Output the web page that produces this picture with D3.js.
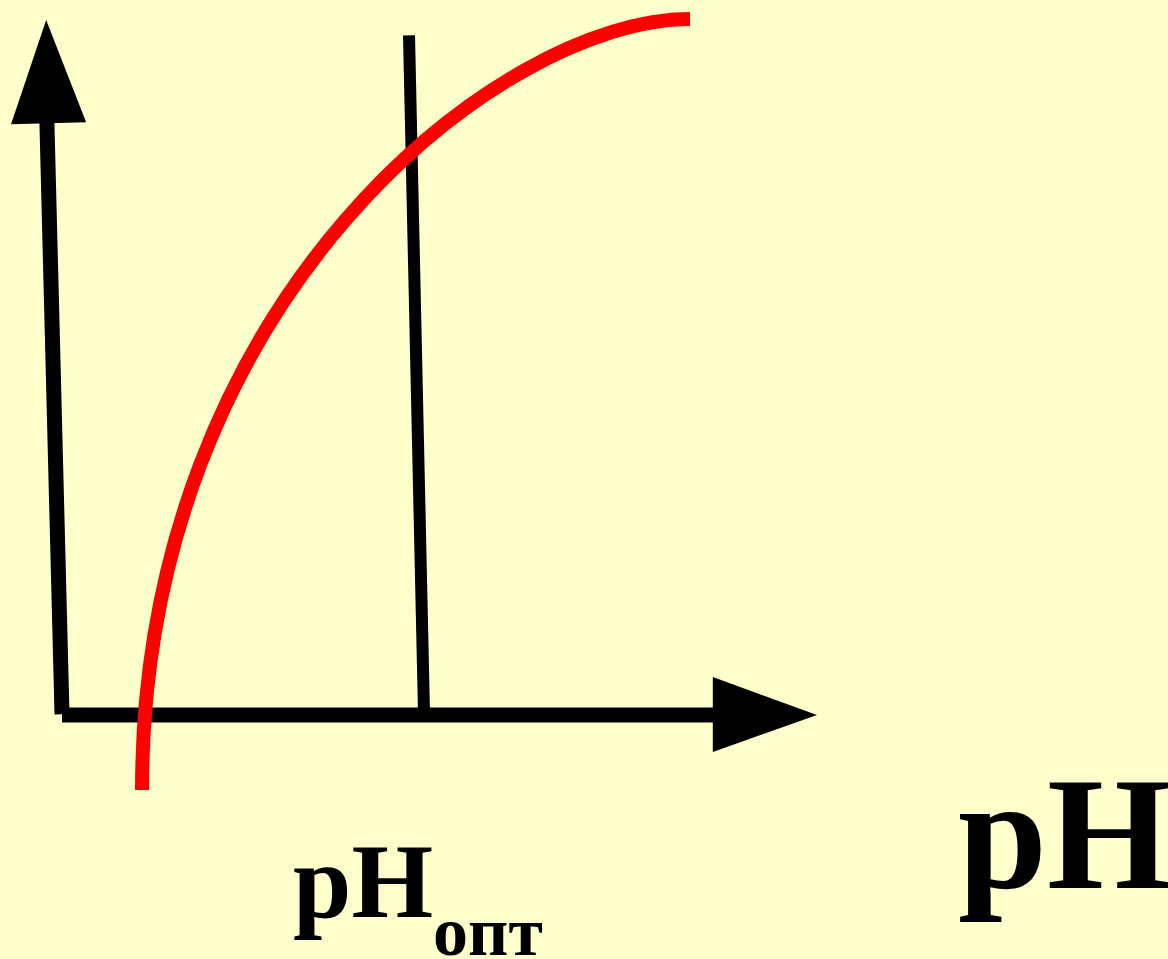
<!DOCTYPE html>
<html>
<head>
<meta charset="utf-8">
<script src="https://cdn.jsdelivr.net/npm/d3@7"></script>
<style>
  html, body { margin: 0; padding: 0; background: #ffffcc; }
  svg { display: block; }
</style>
</head>
<body>
<div id="chart"></div>
<script>
// kurva aktivitas: titik awal, dua titik kontrol, titik akhir (unit relatif 0..100)
const curveX = [10.60, 10.60, 58.01, 83.18];
const curveY = [-10.79, 59.71, 100.14, 100.14];

// garis pH optimum
const optX = [45.96, 47.95];
const optY = [97.8, 0.14];

// sumbu (agak miring seperti gambar asli)
const yAxisX = [-2.0, 0];
const yAxisY = [85.3, 0.1];
const yArrowX = [-6.75, -2.1, 3.2];
const yArrowY = [85.0, 100, 85.3];
const xAxisX = [0, 86.4];
const xAxisY = [0, 0];
const xArrowX = [86.2, 100, 86.2];
const xArrowY = [5.47, 0, -5.32];

const labelMain = "pH";
const labelSub = "опт";

const width = 1168, height = 959;

const x = d3.scaleLinear().domain([0, 100]).range([62, 817]);
const y = d3.scaleLinear().domain([0, 100]).range([715, 20]);

const svg = d3.select("#chart")
  .append("svg")
  .attr("width", width)
  .attr("height", height);

svg.append("rect")
  .attr("width", width)
  .attr("height", height)
  .attr("fill", "#ffffcc");

const line = d3.line().x(d => x(d[0])).y(d => y(d[1]));
const closed = d3.line().x(d => x(d[0])).y(d => y(d[1])).curve(d3.curveLinearClosed);

// sumbu y
svg.append("path")
  .datum(d3.zip(yAxisX, yAxisY))
  .attr("fill", "none")
  .attr("stroke", "black")
  .attr("stroke-width", 15)
  .attr("d", line);

svg.append("path")
  .datum(d3.zip(yArrowX, yArrowY))
  .attr("fill", "black")
  .attr("d", closed);

// sumbu x
svg.append("path")
  .datum(d3.zip(xAxisX, xAxisY))
  .attr("fill", "none")
  .attr("stroke", "black")
  .attr("stroke-width", 15)
  .attr("d", line);

svg.append("path")
  .datum(d3.zip(xArrowX, xArrowY))
  .attr("fill", "black")
  .attr("d", closed);

// garis pH opt
svg.append("path")
  .datum(d3.zip(optX, optY))
  .attr("fill", "none")
  .attr("stroke", "black")
  .attr("stroke-width", 12)
  .attr("d", line);

// kurva merah (bezier kubik)
const p = d3.path();
p.moveTo(x(curveX[0]), y(curveY[0]));
p.bezierCurveTo(x(curveX[1]), y(curveY[1]), x(curveX[2]), y(curveY[2]), x(curveX[3]), y(curveY[3]));
svg.append("path")
  .attr("fill", "none")
  .attr("stroke", "#ff0000")
  .attr("stroke-width", 14)
  .attr("d", p.toString());

// label pH opt
const t = svg.append("text")
  .attr("x", 293)
  .attr("y", 917)
  .style("font-family", "'Liberation Serif', 'Times New Roman', serif")
  .style("font-weight", "bold")
  .style("font-size", "105px")
  .attr("fill", "black");
t.append("tspan").text(labelMain);
t.append("tspan")
  .attr("dy", 38)
  .style("font-size", "70px")
  .text(labelSub);

// label pH kanan
svg.append("text")
  .attr("x", 958)
  .attr("y", 888)
  .style("font-family", "'Liberation Serif', 'Times New Roman', serif")
  .style("font-weight", "bold")
  .style("font-size", "160px")
  .attr("fill", "black")
  .text(labelMain);
</script>
</body>
</html>
